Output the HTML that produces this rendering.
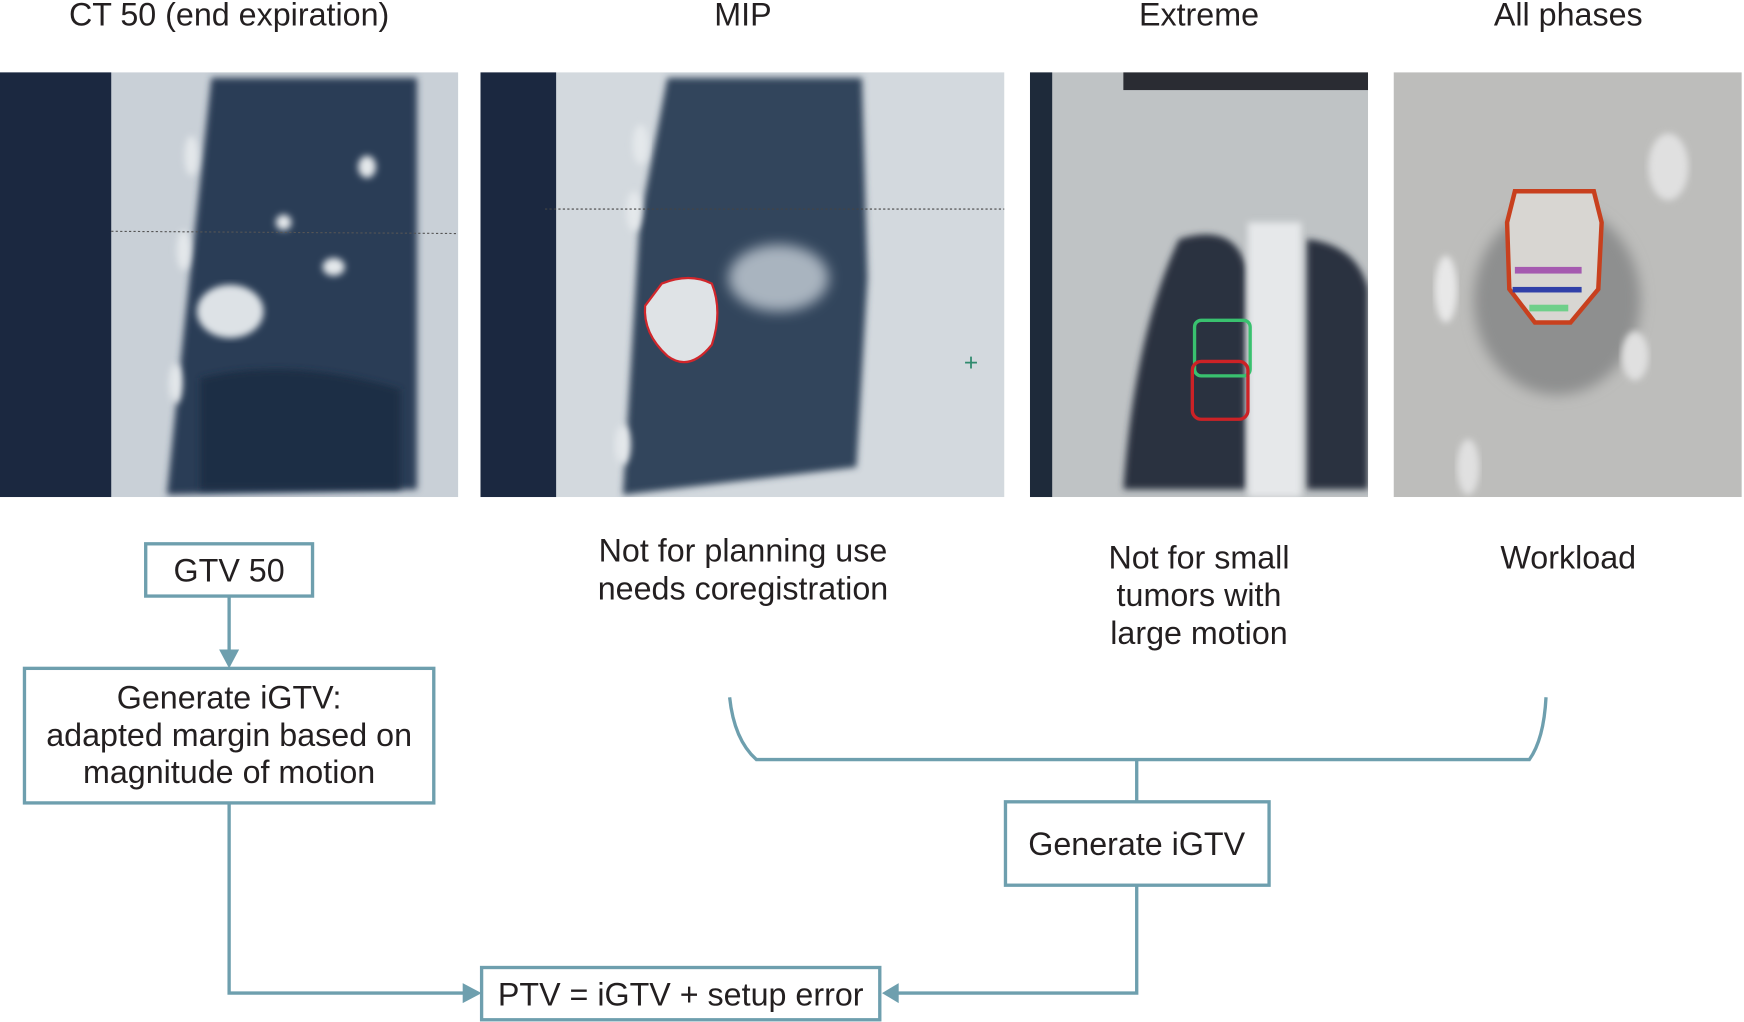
<!DOCTYPE html>
<html><head><meta charset="utf-8"><style>
html,body{margin:0;padding:0;background:#fff;}
svg{display:block;}
text{font-family:"Liberation Sans",Arial,sans-serif;fill:#231f20;}
</style></head><body>
<svg width="1744" height="1022" viewBox="0 0 1568 919" preserveAspectRatio="none" xmlns="http://www.w3.org/2000/svg">
<defs>
<filter id="bl" x="-20%" y="-20%" width="140%" height="140%"><feGaussianBlur stdDeviation="6"/></filter>
<filter id="bl2"><feGaussianBlur stdDeviation="3"/></filter>
<clipPath id="c1"><rect x="0" y="65" width="412" height="382"/></clipPath>
<clipPath id="c2"><rect x="432" y="65" width="471" height="382"/></clipPath>
<clipPath id="c3"><rect x="926" y="65" width="304" height="382"/></clipPath>
<clipPath id="c4"><rect x="1253" y="65" width="313" height="382"/></clipPath>
</defs>
<g font-size="29" text-anchor="middle">
<text x="206" y="23">CT 50 (end expiration)</text>
<text x="668" y="23">MIP</text>
<text x="1078" y="23">Extreme</text>
<text x="1410" y="23">All phases</text>
</g>

<!-- image 1 -->
<g clip-path="url(#c1)">
<rect x="0" y="65" width="412" height="382" fill="#c9d0d7"/>
<rect x="0" y="65" width="100" height="382" fill="#1b2840"/>
<path d="M190 70 L375 70 L375 440 L150 445 L165 300 Z" fill="#2c3e57" filter="url(#bl2)"/>
<g fill="#e4e8eb" filter="url(#bl2)">
<ellipse cx="172" cy="140" rx="6" ry="18"/><ellipse cx="165" cy="225" rx="6" ry="18"/><ellipse cx="158" cy="345" rx="6" ry="18"/>
<ellipse cx="330" cy="150" rx="8" ry="10"/><ellipse cx="300" cy="240" rx="10" ry="8"/><ellipse cx="255" cy="200" rx="7" ry="7"/>
</g>
<ellipse cx="207" cy="280" rx="30" ry="24" fill="#dde2e6" filter="url(#bl2)"/>
<path d="M180 340 Q260 320 360 350 L360 440 L180 440Z" fill="#1f2e45" filter="url(#bl2)"/>
<line x1="100" y1="208" x2="412" y2="210" stroke="#555" stroke-dasharray="2 2"/>
</g>
<!-- image 2 -->
<g clip-path="url(#c2)">
<rect x="432" y="65" width="471" height="382" fill="#d3d9de"/>
<rect x="432" y="65" width="68" height="382" fill="#1b2840"/>
<path d="M600 70 L775 70 L780 250 L770 420 L560 445 L575 200 Z" fill="#31445c" filter="url(#bl2)"/>
<g fill="#e4e8eb" filter="url(#bl2)">
<ellipse cx="576" cy="130" rx="7" ry="18"/><ellipse cx="570" cy="190" rx="7" ry="18"/><ellipse cx="560" cy="400" rx="7" ry="18"/>
</g>
<ellipse cx="700" cy="250" rx="45" ry="30" fill="#a9b4bf" filter="url(#bl)"/>
<path d="M595 255 Q620 245 640 255 Q650 280 640 310 Q620 335 600 320 Q578 300 580 275 Z" fill="#dfe3e6" stroke="#d0262b" stroke-width="2"/>
<line x1="490" y1="188" x2="903" y2="188" stroke="#444" stroke-dasharray="2 2"/>
<text x="873" y="333" font-size="22" style="fill:#2f8a6e" text-anchor="middle">+</text>
</g>
<!-- image 3 -->
<g clip-path="url(#c3)">
<rect x="926" y="65" width="304" height="382" fill="#bfc3c5"/>
<rect x="926" y="65" width="20" height="382" fill="#1e2a3a"/>
<rect x="1010" y="65" width="220" height="16" fill="#2a2c33"/>
<path d="M1060 215 Q1110 200 1120 240 L1120 440 L1010 440 Q1020 300 1060 215Z" fill="#2b3341" filter="url(#bl2)"/>
<path d="M1175 215 Q1220 220 1230 260 L1230 440 L1175 440Z" fill="#2b3341" filter="url(#bl2)"/>
<rect x="1122" y="200" width="48" height="247" fill="#e6e8ea" filter="url(#bl2)"/>
<rect x="1074" y="288" width="50" height="50" rx="6" fill="none" stroke="#39c16f" stroke-width="3"/>
<rect x="1072" y="325" width="50" height="52" rx="8" fill="none" stroke="#cc2226" stroke-width="3"/>
</g>
<!-- image 4 -->
<g clip-path="url(#c4)">
<rect x="1253" y="65" width="313" height="382" fill="#bdbdbb"/>
<ellipse cx="1400" cy="270" rx="75" ry="85" fill="#8e8f8f" filter="url(#bl)"/>
<ellipse cx="1300" cy="260" rx="10" ry="30" fill="#e8e8e8" filter="url(#bl2)"/>
<ellipse cx="1500" cy="150" rx="18" ry="30" fill="#e0e0e0" filter="url(#bl2)"/>
<ellipse cx="1470" cy="320" rx="12" ry="22" fill="#e0e0e0" filter="url(#bl2)"/>
<ellipse cx="1320" cy="420" rx="10" ry="25" fill="#e0e0e0" filter="url(#bl2)"/>
<path d="M1362 172 L1433 172 L1440 200 L1437 260 L1412 290 L1380 290 L1357 260 L1355 200 Z" fill="#d8d6d2" stroke="#c8401e" stroke-width="4"/>
<rect x="1362" y="240" width="60" height="6" fill="#a55ab0"/>
<rect x="1360" y="258" width="62" height="5" fill="#3040a8"/>
<rect x="1375" y="274" width="35" height="6" fill="#6fcf8a"/>
</g>

<!-- diagram -->
<g fill="none" stroke="#6e9fae" stroke-width="3">
<rect x="131" y="489" width="150" height="47" fill="#fff"/>
<rect x="22" y="601" width="368" height="121" fill="#fff"/>
<rect x="904" y="721" width="237" height="75" fill="#fff"/>
<rect x="433" y="870" width="358" height="47" fill="#fff"/>
<line x1="206" y1="536" x2="206" y2="588"/>
<polyline points="206,722 206,893 420,893"/>
<polyline points="1022,796 1022,893 806,893"/>
<path d="M656 627 Q660 665 680 683 L1375 683 Q1388 665 1390 627"/>
<line x1="1022" y1="683" x2="1022" y2="721"/>
</g>
<g fill="#6e9fae">
<polygon points="197,584 215,584 206,601"/>
<polygon points="416,884 433,893 416,902"/>
<polygon points="808,884 793,893 808,902"/>
</g>
<g font-size="29" text-anchor="middle">
<text x="206" y="523">GTV 50</text>
<text x="206" y="637">Generate iGTV:</text>
<text x="206" y="671">adapted margin based on</text>
<text x="206" y="704">magnitude of motion</text>
<text x="1022" y="769">Generate iGTV</text>
<text x="612" y="904">PTV = iGTV + setup error</text>
<text x="668" y="505">Not for planning use</text>
<text x="668" y="539">needs coregistration</text>
<text x="1078" y="511">Not for small</text>
<text x="1078" y="545">tumors with</text>
<text x="1078" y="579">large motion</text>
<text x="1410" y="511">Workload</text>
</g>
</svg>
</body></html>
